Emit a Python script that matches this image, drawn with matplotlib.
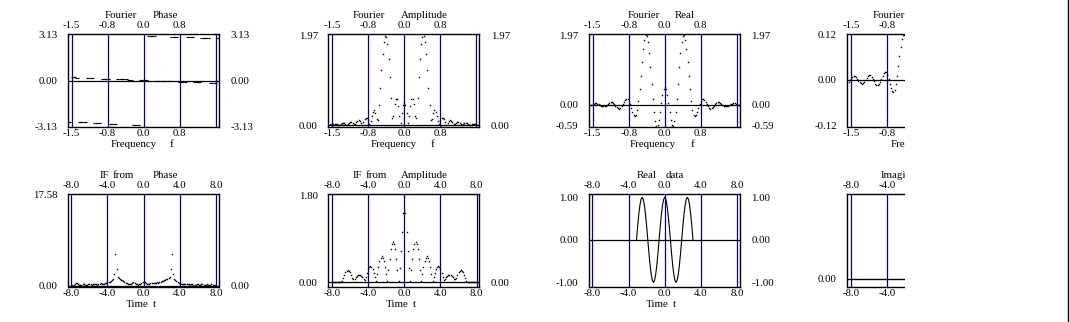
import numpy as np
import matplotlib
matplotlib.use("Agg")
import matplotlib.pyplot as plt
from matplotlib.patches import Rectangle
from matplotlib.lines import Line2D

W, H = 1069, 322

# sample axes: frequency step 0.025, time step 0.125
freq = np.linspace(-1.55, 1.55, 125)
time = np.linspace(-8.0, 8.0, 129)
time_sig = np.linspace(-3.125, 3.125, 51)

fourier_phase = [
    -2.76, -2.77, 0.22, 0.21, 0.21, 0.21, 0.20, 0.20, -2.79, -2.80,
    -2.80, -2.81, -2.81, -2.81, -2.82, 0.17, 0.17, 0.17, 0.16, 0.16,
    0.16, -2.85, -2.85, -2.85, -2.86, -2.86, -2.87, 0.13, 0.13, 0.13,
    0.12, 0.12, 0.12, 0.11, -2.90, -2.90, -2.91, -2.91, -2.91, -2.92,
    0.09, 0.09, 0.09, 0.08, 0.08, 0.08, 0.07, 0.07, 0.07, 0.06,
    0.06, 0.06, 0.05, -2.97, -2.98, -2.98, -2.99, -2.99, -2.99, 0.03,
    0.03, 0.02,
    0.02, 0.02, 0.01, 0.01, 3.02, 3.01, 3.01, 3.01, 3.00, 3.00,
    -0.01, -0.02, -0.02, -0.02, -0.03, -0.03, -0.03, -0.04, -0.04, -0.04,
    -0.05, -0.05, -0.05, 2.96, 2.95, 2.95, 2.95, 2.94, 2.94, -0.07,
    -0.08, -0.08, -0.08, -0.09, -0.09, -0.09, 2.91, 2.91, 2.91, 2.90,
    2.90, 2.90, -0.12, -0.12, -0.12, -0.13, -0.13, -0.13, 2.87, 2.87,
    2.87, 2.86, 2.86, 2.86, 2.85, -0.16, -0.16, -0.17, -0.17, -0.17,
    -0.18, 2.83, 2.83]

fourier_amp = [
    0.02, 0.00, 0.02, 0.03, 0.04, 0.04, 0.03, 0.01, 0.01, 0.03,
    0.05, 0.05, 0.05, 0.03, 0.00, 0.03, 0.06, 0.07, 0.07, 0.05,
    0.02, 0.03, 0.07, 0.10, 0.11, 0.09, 0.05, 0.01, 0.08, 0.14,
    0.17, 0.16, 0.11, 0.02, 0.09, 0.21, 0.30, 0.33, 0.28, 0.14,
    0.11, 0.44, 0.82, 1.22, 1.57, 1.83, 1.97, 1.95, 1.78, 1.47,
    1.06, 0.60, 0.16, 0.21, 0.47, 0.59, 0.57, 0.43, 0.21, 0.05,
    0.28, 0.44,
    0.50, 0.44, 0.28, 0.05, 0.21, 0.43, 0.57, 0.59, 0.47, 0.21,
    0.16, 0.60, 1.06, 1.47, 1.78, 1.95, 1.97, 1.83, 1.57, 1.22,
    0.82, 0.44, 0.11, 0.14, 0.28, 0.33, 0.30, 0.21, 0.09, 0.02,
    0.11, 0.16, 0.17, 0.14, 0.08, 0.01, 0.05, 0.09, 0.11, 0.10,
    0.07, 0.03, 0.02, 0.05, 0.07, 0.07, 0.06, 0.03, 0.00, 0.03,
    0.05, 0.05, 0.05, 0.03, 0.01, 0.01, 0.03, 0.04, 0.04, 0.03,
    0.02, 0.00, 0.02]

fourier_real = [
    -0.02, 0.00, 0.02, 0.03, 0.04, 0.04, 0.03, 0.01, -0.01, -0.03,
    -0.05, -0.05, -0.05, -0.03, 0.00, 0.03, 0.06, 0.07, 0.07, 0.05,
    0.02, -0.03, -0.07, -0.10, -0.11, -0.09, -0.05, 0.01, 0.08, 0.14,
    0.17, 0.16, 0.11, 0.02, -0.09, -0.21, -0.30, -0.33, -0.28, -0.14,
    0.11, 0.44, 0.82, 1.22, 1.57, 1.83, 1.97, 1.95, 1.78, 1.47,
    1.06, 0.60, 0.16, -0.21, -0.47, -0.59, -0.57, -0.43, -0.21, 0.05,
    0.28, 0.44,
    0.50, 0.44, 0.28, 0.05, -0.21, -0.43, -0.57, -0.59, -0.47, -0.21,
    0.16, 0.60, 1.06, 1.47, 1.78, 1.95, 1.97, 1.83, 1.57, 1.22,
    0.82, 0.44, 0.11, -0.14, -0.28, -0.33, -0.30, -0.21, -0.09, 0.02,
    0.11, 0.16, 0.17, 0.14, 0.08, 0.01, -0.05, -0.09, -0.11, -0.10,
    -0.07, -0.03, 0.02, 0.05, 0.07, 0.07, 0.06, 0.03, 0.00, -0.03,
    -0.05, -0.05, -0.05, -0.03, -0.01, 0.01, 0.03, 0.04, 0.04, 0.03,
    0.02, 0.00, -0.02]

fourier_imag = [
    -0.005, -0.001, 0.003, 0.007, 0.009, 0.009, 0.007, 0.003, -0.002, -0.006,
    -0.009, -0.010, -0.009, -0.005, 0.000, 0.005, 0.010, 0.012, 0.012, 0.008,
    0.003, -0.004, -0.010, -0.014, -0.015, -0.012, -0.006, 0.002, 0.010, 0.017,
    0.020, 0.019, 0.012, 0.002, -0.010, -0.021, -0.029, -0.031, -0.026, -0.012,
    0.009, 0.035, 0.062, 0.087, 0.106, 0.117, 0.118, 0.110, 0.093, 0.072,
    0.048, 0.025, 0.006, -0.007, -0.014, -0.016, -0.013, -0.008, -0.003, 0.001,
    0.002, 0.002,
    0.000, -0.002, -0.002, -0.001, 0.003, 0.008, 0.013, 0.016, 0.014, 0.007,
    -0.006, -0.025, -0.048, -0.072, -0.093, -0.110, -0.118, -0.117, -0.106, -0.087,
    -0.062, -0.035, -0.009, 0.012, 0.026, 0.031, 0.029, 0.021, 0.010, -0.002,
    -0.012, -0.019, -0.020, -0.017, -0.010, -0.002, 0.006, 0.012, 0.015, 0.014,
    0.010, 0.004, -0.003, -0.008, -0.012, -0.012, -0.010, -0.005, 0.000, 0.005,
    0.009, 0.010, 0.009, 0.006, 0.002, -0.003, -0.007, -0.009, -0.009, -0.007,
    -0.003, 0.001, 0.005]

if_phase = [
    0.1, 0.2, 0.15, 0.3, 0.5, 0.6, 0.3, 0.2, 0.1, 0.2,
    0.25, 0.3, 0.2, 0.15, 0.2, 0.3, 0.35, 0.3, 0.2, 0.25,
    0.35, 0.4, 0.3, 0.2, 0.3, 0.4, 0.45, 0.35, 0.3, 0.4,
    0.5, 0.6, 0.65, 0.7, 0.8, 0.95, 1.1, 1.3, 2.2, 6.1,
    3.2, 1.7, 1.45, 1.3, 1.15, 1.0, 0.85, 0.7, 0.6, 0.5,
    0.4, 0.3, 0.25, 0.3, 0.5, 0.75, 0.6, 0.4, 0.25, 0.2,
    0.25, 0.3, 0.45, 0.65, 17.58, 0.65, 0.45, 0.3, 0.25, 0.35,
    0.45, 0.55, 0.6, 0.5, 0.45, 0.55, 0.65, 0.6, 0.7, 0.8,
    0.85, 0.95, 1.0, 1.1, 1.2, 1.35, 1.5, 1.7, 3.2, 6.1,
    2.2, 1.3, 1.1, 0.9, 0.75, 0.6, 0.5, 0.4, 0.35, 0.3,
    0.35, 0.4, 0.3, 0.25, 0.3, 0.2, 0.25, 0.3, 0.2, 0.15,
    0.2, 0.3, 0.25, 0.2, 0.15, 0.25, 0.3, 0.2, 0.15, 0.2,
    0.25, 0.2, 0.15, 0.2, 0.3, 0.2, 0.15, 0.2, 0.1]

if_amp = [
    0, 0, 0, 0, 0, 0, 0, 0, 0,
    0.03, 0.09, 0.15, 0.20, 0.24, 0.25, 0.24, 0.20, 0.15, 0.09,
    0.06, 0.07, 0.10, 0.13, 0.15, 0.15, 0.15, 0.13, 0.10, 0.07,
    0.05, 0.10, 0.19, 0.27, 0.31, 0.33, 0.31, 0.27, 0.19, 0.10,
    0.02, 0.17, 0.32, 0.44, 0.51, 0.54, 0.51, 0.44, 0.32, 0.17,
    0.02, 0.26, 0.49, 0.68, 0.80, 0.84, 0.80, 0.68, 0.49, 0.26,
    0.03, 0.30, 0.65, 1.05, 1.45,
    1.80, 1.45, 1.05, 0.65, 0.30, 0.03,
    0.26, 0.49, 0.68, 0.80, 0.84, 0.80, 0.68, 0.49, 0.26, 0.02,
    0.17, 0.32, 0.44, 0.51, 0.54, 0.51, 0.44, 0.32, 0.17, 0.02,
    0.10, 0.19, 0.27, 0.31, 0.33, 0.31, 0.27, 0.19, 0.10, 0.05,
    0.07, 0.10, 0.13, 0.15, 0.15, 0.15, 0.13, 0.10, 0.07, 0.06,
    0.09, 0.15, 0.20, 0.24, 0.25, 0.24, 0.20, 0.15, 0.09, 0.03,
    0, 0, 0, 0, 0, 0, 0, 0, 0]

real_data = [
    0.00, 0.31, 0.59, 0.81, 0.95, 1.00, 0.95, 0.81, 0.59, 0.31,
    0.00, -0.31, -0.59, -0.81, -0.95, -1.00, -0.95, -0.81, -0.59, -0.31,
    0.00, 0.31, 0.59, 0.81, 0.95, 1.00, 0.95, 0.81, 0.59, 0.31,
    0.00, -0.31, -0.59, -0.81, -0.95, -1.00, -0.95, -0.81, -0.59, -0.31,
    0.00, 0.31, 0.59, 0.81, 0.95, 1.00, 0.95, 0.81, 0.59, 0.31,
    0.00]

imag_data = [0.0] * 129

f_ticks = [-1.5, -0.75, 0.0, 0.75]
f_labels = ["-1.5", "-0.8", "0.0", "0.8"]
f_blue = [-1.5, -0.75, 0.0, 0.75, 1.5]
t_ticks = [-8.0, -4.0, 0.0, 4.0, 8.0]
t_labels = ["-8.0", "-4.0", "0.0", "4.0", "8.0"]

FONT = "Liberation Serif"
FS = 7.8
NAVY = "#000080"


def put_words(fig, words, y):
    for word, x in words:
        fig.text(x / W, 1 - y / H, word, ha="left", va="baseline",
                 family=FONT, fontsize=FS)


def main():
    fig = plt.figure(figsize=(W / 100, H / 100), dpi=100)

    col_left = [67.7, 328.3, 588.8, 847.4]
    row_top = [34, 194]

    panels = [
        # top row: Fourier transform of the data
        dict(c=0, r=0, x=freq, y=fourier_phase, kind="dash", ylim=(-3.13, 3.13),
             left=[3.13, 0.0, -3.13], right=[3.13, 0.0, -3.13],
             title=[("Fourier", 105), ("Phase", 152.7)],
             xlab=[("Frequency", 111), ("f", 170)]),
        dict(c=1, r=0, x=freq, y=fourier_amp, kind="dots", ylim=(-0.035, 2.01),
             left=[1.97, 0.0], right=[1.97, 0.0],
             title=[("Fourier", 352.7), ("Amplitude", 401)],
             xlab=[("Frequency", 371), ("f", 431)]),
        dict(c=2, r=0, x=freq, y=fourier_real, kind="dots", ylim=(-0.63, 2.0),
             left=[1.97, 0.0, -0.59], right=[1.97, 0.0, -0.59],
             title=[("Fourier", 627.3), ("Real", 675)],
             xlab=[("Frequency", 630), ("f", 691)]),
        dict(c=3, r=0, x=freq, y=fourier_imag, kind="dots", ylim=(-0.124, 0.12),
             left=[0.12, 0.0, -0.12], right=[0.12, 0.0, -0.12],
             title=[("Fourier", 872.7), ("Imaginary", 920)],
             xlab=[("Frequency", 890.7), ("f", 950)]),
        # bottom row: inverse transforms and the data itself
        dict(c=0, r=1, x=time, y=if_phase, kind="dots", ylim=(-0.25, 17.58),
             left=[17.58, 0.0], right=[0.0],
             title=[("IF", 100), ("from", 113), ("Phase", 152.7)],
             xlab=[("Time", 126), ("t", 153.3)]),
        dict(c=1, r=1, x=time, y=if_amp, kind="dots", ylim=(-0.104, 1.84),
             left=[1.80, 0.0], right=[0.0],
             title=[("IF", 353), ("from", 366), ("Amplitude", 400.7)],
             xlab=[("Time", 386), ("t", 413.3)]),
        dict(c=2, r=1, x=time_sig, y=real_data, kind="line", ylim=(-1.108, 1.077),
             left=[1.0, 0.0, -1.0], right=[1.0, 0.0, -1.0],
             title=[("Real", 636.7), ("data", 666)],
             xlab=[("Time", 646), ("t", 672.7)]),
        dict(c=3, r=1, x=time, y=imag_data, kind="line", ylim=(-0.098, 1.0),
             left=[0.0], right=[],
             title=[("Imaginary", 881), ("data", 935)],
             xlab=[("Time", 904.6), ("t", 931)]),
    ]

    for p in panels:
        left = col_left[p["c"]]
        top = row_top[p["r"]]
        ax = fig.add_axes([left / W, 1 - (top + 93) / H, 151 / W, 93 / H])

        if p["r"] == 0:
            ax.set_xlim(-1.58, 1.56)
            ticks, labels, blues = f_ticks, f_labels, f_blue
        else:
            ax.set_xlim(-8.4, 8.3)
            ticks, labels, blues = t_ticks, t_labels, t_ticks
        ax.set_ylim(*p["ylim"])

        # samples drawn as single screen dots, like the old plot
        if p["kind"] == "dots":
            ax.plot(p["x"], p["y"], ls="none", marker="s", ms=1.0, mew=0,
                    color="k", antialiased=False, zorder=2)
        elif p["kind"] == "dash":
            ax.plot(p["x"], p["y"], ls="none", marker="_", ms=1.6, mew=0.8,
                    color="k", antialiased=False, zorder=2)
        else:
            ax.plot(p["x"], p["y"], color="k", lw=0.8, zorder=2)

        ax.axhline(0, color="k", lw=0.9, zorder=2.5)
        for b in blues:
            ax.axvline(b, color=NAVY, lw=0.9, zorder=3)

        for s in ax.spines.values():
            s.set_linewidth(1.0)

        # bottom and left labels
        ax.set_xticks(ticks, labels)
        ax.set_yticks(p["left"], ["%.2f" % v for v in p["left"]])
        ax.tick_params(axis="x", length=0, pad=1.5, labelsize=FS)
        ax.tick_params(axis="y", length=0, pad=7.5, labelsize=FS)
        for lab in ax.get_xticklabels() + ax.get_yticklabels():
            lab.set_family(FONT)

        # top and right labels
        sx = ax.secondary_xaxis("top")
        sx.set_xticks(ticks, labels)
        sx.tick_params(length=0, pad=3.0, labelsize=FS)
        sx.spines["top"].set_visible(False)
        sy = ax.secondary_yaxis("right")
        sy.set_yticks(p["right"], ["%.2f" % v for v in p["right"]])
        sy.tick_params(length=0, pad=8.4, labelsize=FS)
        sy.spines["right"].set_visible(False)
        for lab in sx.get_xticklabels() + sy.get_yticklabels():
            lab.set_family(FONT)

        put_words(fig, p["title"], 18.5 + 160 * p["r"])
        put_words(fig, p["xlab"], 146.5 + 160.5 * p["r"])

    # the window cuts the fourth column off
    fig.add_artist(Rectangle((904.5 / W, 0), (1066.5 - 904.5) / W, 1,
                             transform=fig.transFigure, facecolor="white",
                             edgecolor="none", zorder=10))
    fig.add_artist(Line2D([1067.8 / W, 1067.8 / W], [0, 1],
                          transform=fig.transFigure, color="k", lw=1.0, zorder=11))

    fig.savefig("out.png", dpi=100, facecolor="white")


if __name__ == "__main__":
    main()
